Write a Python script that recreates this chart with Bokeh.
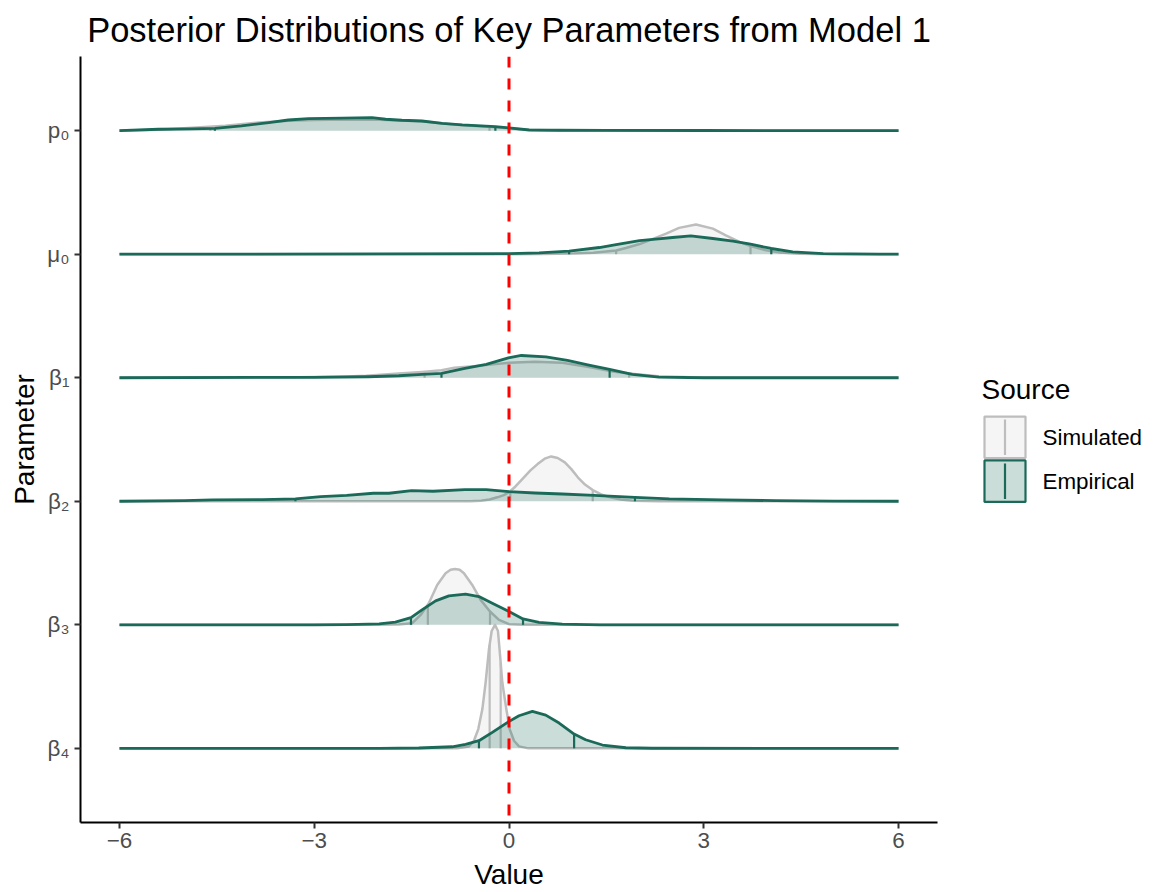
from bokeh.plotting import figure
from bokeh.models import Range1d, FixedTicker, Span
from bokeh.layouts import row
from bokeh.embed import file_html
from bokeh.resources import INLINE
from bokeh.core.properties import value
import numpy as np

FONT = "Liberation Sans"

# ---------------- data ----------------
params = ["p₀", "μ₀", "β₁", "β₂", "β₃", "β₄"]        # top to bottom
param_pos = [6, 5, 4, 3, 2, 1]
sources = ["Simulated", "Empirical"]
x_ticks = [-6, -3, 0, 3, 6]
x_tick_labels = ["−6", "−3", "0", "3", "6"]

p0_sim_x = [-6, -5.4, -5.14, -4.75, -4.37, -3.86, -3.4, -3.0, -2.5, -2.0, -1.65, -1.34, -1.0, -0.7, -0.2, 0.0, 0.3, 0.8, 1.5, 6]
p0_sim_h = [0, 0.008, 0.016, 0.028, 0.04, 0.065, 0.08, 0.086, 0.09, 0.088, 0.082, 0.075, 0.058, 0.044, 0.028, 0.02, 0.008, 0.002, 0, 0]
p0_emp_x = [-6, -5.4, -4.9, -4.53, -4.12, -3.7, -3.4, -3.09, -2.57, -2.11, -1.9, -1.65, -1.34, -1.03, -0.72, -0.21, 0.0, 0.31, 0.77, 1.5, 3.0, 6.0]
p0_emp_h = [0, 0.011, 0.015, 0.019, 0.038, 0.065, 0.086, 0.097, 0.102, 0.105, 0.092, 0.084, 0.078, 0.059, 0.046, 0.032, 0.022, 0.005, 0.003, 0.002, 0.001, 0]
p0_sim_q = [-4.6, -0.3]
p0_emp_q = [-4.53, -0.21]

mu0_sim_x = [-6, 0, 0.5, 1.0, 1.3, 1.65, 1.8, 2.0, 2.2, 2.42, 2.62, 2.88, 3.14, 3.34, 3.55, 3.72, 3.96, 4.17, 4.48, 5.0, 6]
mu0_sim_h = [0, 0, 0.001, 0.005, 0.012, 0.03, 0.05, 0.08, 0.12, 0.167, 0.213, 0.24, 0.207, 0.153, 0.1, 0.065, 0.032, 0.013, 0.003, 0, 0]
mu0_emp_x = [-6, -2, 0, 0.463, 0.926, 1.39, 1.65, 2.01, 2.26, 2.52, 2.8, 3.14, 3.45, 3.72, 4.04, 4.37, 4.84, 5.71, 6]
mu0_emp_h = [0, 0.002, 0.005, 0.011, 0.024, 0.054, 0.078, 0.11, 0.121, 0.135, 0.148, 0.127, 0.105, 0.081, 0.046, 0.019, 0.005, 0, 0]
mu0_sim_q = [1.65, 3.72]
mu0_emp_q = [0.926, 4.04]

b1_sim_x = [-6, -3.5, -3.0, -2.5, -2.2, -1.7, -1.34, -1.04, -0.84, -0.4, 0.0, 0.4, 0.82, 1.23, 1.6, 1.85, 2.3, 2.8, 3.5, 6]
b1_sim_h = [0, 0.001, 0.005, 0.01, 0.016, 0.035, 0.047, 0.06, 0.08, 0.1, 0.121, 0.129, 0.121, 0.086, 0.05, 0.035, 0.011, 0.003, 0, 0]
b1_emp_x = [-6, -3, -2.17, -1.7, -1.34, -1.04, -0.68, -0.35, -0.01, 0.19, 0.57, 0.9, 1.23, 1.55, 1.9, 2.31, 3.0, 6]
b1_emp_h = [0, 0.003, 0.008, 0.016, 0.027, 0.035, 0.075, 0.108, 0.161, 0.180, 0.169, 0.140, 0.102, 0.067, 0.027, 0.005, 0.0, 0]
b1_sim_q = [-1.3, 1.85]
b1_emp_q = [-1.04, 1.55]

b2_sim_x = [-6, -0.6, -0.43, -0.3, -0.18, -0.08, 0.0, 0.1, 0.23, 0.33, 0.44, 0.55, 0.65, 0.75, 0.86, 0.96, 1.06, 1.17, 1.29, 1.42, 1.56, 1.72, 1.9, 2.3, 6]
b2_sim_h = [0, 0, 0.005, 0.014, 0.032, 0.05, 0.073, 0.12, 0.194, 0.25, 0.301, 0.345, 0.363, 0.35, 0.315, 0.26, 0.194, 0.135, 0.091, 0.055, 0.032, 0.015, 0.005, 0, 0]
b2_emp_x = [-6, -5, -4.57, -3.8, -3.29, -2.9, -2.5, -2.09, -1.85, -1.5, -1.17, -0.68, -0.35, 0, 0.4, 0.82, 1.31, 1.94, 2.47, 3.3, 4.1, 5, 6]
b2_emp_h = [0, 0.005, 0.011, 0.013, 0.019, 0.038, 0.048, 0.065, 0.065, 0.086, 0.081, 0.094, 0.094, 0.078, 0.067, 0.059, 0.048, 0.032, 0.019, 0.011, 0.005, 0.002, 0]
b2_sim_q = [0.02, 1.29]
b2_emp_q = [-3.29, 1.94]

b3_sim_x = [-6, -2.0, -1.7, -1.49, -1.36, -1.235, -1.106, -0.977, -0.9, -0.833, -0.76, -0.694, -0.566, -0.437, -0.293, -0.154, 0.0, 0.2, 0.5, 6]
b3_sim_h = [0, 0, 0.003, 0.013, 0.08, 0.175, 0.323, 0.417, 0.445, 0.452, 0.445, 0.417, 0.323, 0.202, 0.108, 0.04, 0.005, 0.001, 0, 0]
b3_emp_x = [-6, -3, -2.5, -2.0, -1.75, -1.51, -1.34, -1.13, -0.926, -0.669, -0.463, -0.257, 0.0, 0.216, 0.463, 0.82, 1.4, 2, 6]
b3_emp_h = [0, 0.0, 0.002, 0.008, 0.022, 0.059, 0.121, 0.194, 0.234, 0.248, 0.229, 0.175, 0.108, 0.048, 0.019, 0.005, 0, 0, 0]
b3_sim_q = [-1.25, -0.293]
b3_emp_q = [-1.51, 0.216]

b4_sim_x = [-6, -0.8, -0.617, -0.54, -0.473, -0.41, -0.36, -0.309, -0.267, -0.216, -0.17, -0.145, -0.103, -0.041, 0.01, 0.077, 0.154, 0.3, 6]
b4_sim_h = [0, 0, 0.016, 0.062, 0.156, 0.318, 0.533, 0.80, 0.95, 1.0, 0.95, 0.80, 0.533, 0.318, 0.156, 0.062, 0.016, 0.0, 0]
b4_emp_x = [-6, -2, -1.39, -0.875, -0.669, -0.463, -0.257, -0.01, 0.154, 0.36, 0.566, 0.772, 1.003, 1.18, 1.44, 1.8, 2.2, 6]
b4_emp_h = [0, 0, 0.003, 0.013, 0.032, 0.062, 0.129, 0.215, 0.264, 0.299, 0.269, 0.205, 0.116, 0.07, 0.027, 0.005, 0.001, 0]
b4_sim_q = [-0.298, -0.128]
b4_emp_q = [-0.463, 1.003]

ridges = [
    (p0_sim_x, p0_sim_h, p0_sim_q, p0_emp_x, p0_emp_h, p0_emp_q),
    (mu0_sim_x, mu0_sim_h, mu0_sim_q, mu0_emp_x, mu0_emp_h, mu0_emp_q),
    (b1_sim_x, b1_sim_h, b1_sim_q, b1_emp_x, b1_emp_h, b1_emp_q),
    (b2_sim_x, b2_sim_h, b2_sim_q, b2_emp_x, b2_emp_h, b2_emp_q),
    (b3_sim_x, b3_sim_h, b3_sim_q, b3_emp_x, b3_emp_h, b3_emp_q),
    (b4_sim_x, b4_sim_h, b4_sim_q, b4_emp_x, b4_emp_h, b4_emp_q),
]

# ---------------- styles ----------------
SIM_LINE = "#bdbdbd"
EMP_LINE = "#1b6a59"
LINE_COLORS = [SIM_LINE, EMP_LINE]
FILL_ALPHAS = [0.15, 0.23]
LINE_WIDTHS = [2.5, 2.8]
TICK_COL = "#4d4d4d"

main = figure(width=960, height=892,
              x_range=Range1d(-6.6, 6.6), y_range=Range1d(0.4, 6.6),
              output_backend="svg", toolbar_location=None,
              min_border_left=80, min_border_right=23,
              min_border_top=55, min_border_bottom=70,
              title="Posterior Distributions of Key Parameters from Model 1")
main.title.align = "center"
main.title.text_font = FONT
main.title.text_font_size = "34.5px"
main.title.text_font_style = "normal"
main.title.text_color = "black"
main.title.standoff = 16
main.grid.visible = False
main.outline_line_color = None
main.background_fill_color = "white"
main.border_fill_color = "white"

for axis in (main.xaxis[0], main.yaxis[0]):
    axis.axis_line_color = "black"
    axis.axis_line_width = 2
    axis.major_tick_line_color = "#333333"
    axis.major_tick_line_width = 2
    axis.major_tick_out = 6
    axis.major_tick_in = 0
    axis.minor_tick_line_color = None
    axis.major_label_text_font = FONT
    axis.major_label_text_font_size = "22.4px"
    axis.major_label_text_color = TICK_COL
    axis.axis_label_text_font = FONT
    axis.axis_label_text_font_size = "28px"
    axis.axis_label_text_font_style = "normal"
    axis.axis_label_text_color = "black"

main.xaxis.ticker = FixedTicker(ticks=x_ticks)
main.xaxis.major_label_overrides = {float(t): s for t, s in zip(x_ticks, x_tick_labels)}
main.xaxis.axis_label = "Value"
main.xaxis.major_label_standoff = 4
main.xaxis.axis_label_standoff = 8

main.yaxis.ticker = FixedTicker(ticks=param_pos)
main.yaxis.major_label_overrides = {float(pv): s for pv, s in zip(param_pos, params)}
main.yaxis.axis_label = "Parameter"
main.yaxis.major_label_standoff = 5
main.yaxis.axis_label_standoff = 4

for pos, (sx, sh, sq, ex, eh, eq) in zip(param_pos, ridges):
    groups = [(sx, sh, sq), (ex, eh, eq)]
    for (gx, gh, gq), lc, fa, lw in zip(groups, LINE_COLORS, FILL_ALPHAS, LINE_WIDTHS):
        gx = np.array(gx, dtype=float)
        top = pos + np.array(gh, dtype=float)
        main.varea(x=gx, y1=np.full_like(gx, pos), y2=top, fill_color=lc, fill_alpha=fa)
        qh = np.interp(gq, gx, top)
        main.segment(x0=gq, y0=[pos] * len(gq), x1=gq, y1=qh,
                     line_color=lc, line_width=2.2)
        main.line(gx, top, line_color=lc, line_width=lw, line_join="round")

main.add_layout(Span(location=0, dimension="height", line_color="red",
                     line_dash="11 11", line_width=3))

# ---------------- legend panel ----------------
# row() aligns this panel's frame with the main frame (rows 55..822)
leg = figure(width=195, height=892, x_range=Range1d(960, 1155), y_range=Range1d(822, 55),
             output_backend="svg", toolbar_location=None,
             x_axis_type=None, y_axis_type=None,
             min_border_left=0, min_border_right=0, min_border_top=55, min_border_bottom=70)
leg.grid.visible = False
leg.outline_line_color = None
leg.border_fill_color = "white"

key_top = [415.5, 459.5]
key_bottom = [457.0, 501.0]
leg.text(x=[981], y=[388], text=["Source"], text_font=value(FONT),
         text_font_size="28px", text_baseline="middle", text_color="black")
for i, (src, lc, fa) in enumerate(zip(sources, LINE_COLORS, FILL_ALPHAS)):
    leg.quad(left=[984], right=[1025], top=[key_top[i]], bottom=[key_bottom[i]],
             fill_color="white", line_color=None)
    leg.quad(left=[984], right=[1025], top=[key_top[i]], bottom=[key_bottom[i]],
             fill_color=lc, fill_alpha=fa, line_color=lc, line_width=2.2)
    leg.segment(x0=[1004.5], y0=[key_top[i] + 3], x1=[1004.5], y1=[key_bottom[i] - 3],
                line_color=lc, line_width=2.2)
    leg.text(x=[1042], y=[(key_top[i] + key_bottom[i]) / 2], text=[src],
             text_font=value(FONT), text_font_size="22.4px",
             text_baseline="middle", text_color="black")

layout = row(main, leg)
open("out.html", "w").write(file_html(layout, INLINE))
